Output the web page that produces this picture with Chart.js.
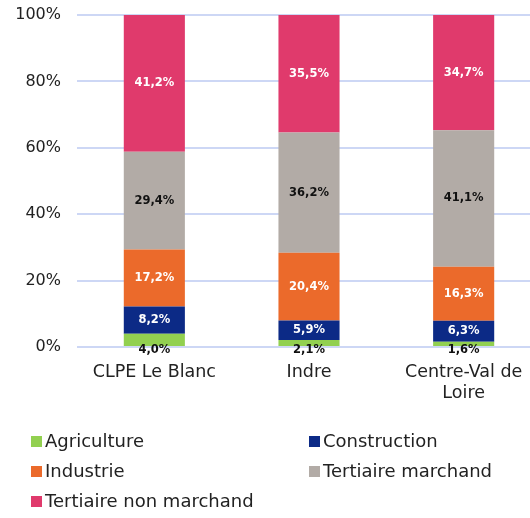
<!DOCTYPE html>
<html>
<head>
<meta charset="utf-8">
<script src="https://cdn.jsdelivr.net/npm/chart.js@4/dist/chart.umd.min.js"></script>
<style>
  html, body { margin: 0; padding: 0; overflow: hidden; background: #fff; }
  #wrap { width: 530px; height: 518px; overflow: hidden; }
</style>
</head>
<body>
<div id="wrap"><canvas id="c" width="545" height="518"></canvas></div>
<script>
// data
const categories = ["CLPE Le Blanc", "Indre", ["Centre-Val de", "Loire"]];
const agriculture = [4.0, 2.1, 1.6];
const construction = [8.2, 5.9, 6.3];
const industrie = [17.2, 20.4, 16.3];
const tertiaireMarchand = [29.4, 36.2, 41.1];
const tertiaireNonMarchand = [41.2, 35.5, 34.7];
const yTicks = [0, 20, 40, 60, 80, 100];

const FONT = "'DejaVu Sans', sans-serif";

const series = [
  { label: "Agriculture", data: agriculture, color: "#92d050", text: "#111" },
  { label: "Construction", data: construction, color: "#0c2a86", text: "#fff" },
  { label: "Industrie", data: industrie, color: "#eb6a2b", text: "#fff" },
  { label: "Tertiaire marchand", data: tertiaireMarchand, color: "#b2aba6", text: "#111" },
  { label: "Tertiaire non marchand", data: tertiaireNonMarchand, color: "#e03a6c", text: "#fff" }
];

const fmt = v => v.toFixed(1).replace(".", ",") + "%";

// value labels inside each segment (agriculture goes under the axis)
const valueLabels = {
  id: "valueLabels",
  afterDatasetsDraw(chart) {
    const ctx = chart.ctx;
    ctx.save();
    ctx.font = "bold 11.5px " + FONT;
    ctx.textAlign = "center";
    ctx.textBaseline = "middle";
    chart.data.datasets.forEach((ds, i) => {
      chart.getDatasetMeta(i).data.forEach((bar, j) => {
        let y = (bar.y + bar.base) / 2;
        if (i === 0) y = bar.base + 4;
        ctx.fillStyle = series[i].text;
        ctx.fillText(fmt(ds.data[j]), bar.x, y);
      });
    });
    ctx.restore();
  }
};

// two-column legend at the bottom
const gridLegend = {
  id: "gridLegend",
  afterDraw(chart) {
    const ctx = chart.ctx;
    ctx.save();
    ctx.font = "18px " + FONT;
    ctx.textBaseline = "middle";
    ctx.textAlign = "left";
    chart.data.datasets.forEach((ds, i) => {
      const x = i % 2 === 0 ? 31 : 309;
      const y = 442 + Math.floor(i / 2) * 30;
      ctx.fillStyle = ds.backgroundColor;
      ctx.fillRect(x, y - 6, 11, 11);
      ctx.fillStyle = "#222";
      ctx.fillText(ds.label, x + 14, y);
    });
    ctx.restore();
  }
};

new Chart(document.getElementById("c"), {
  type: "bar",
  data: {
    labels: categories,
    datasets: series.map(s => ({
      label: s.label,
      data: s.data,
      backgroundColor: s.color,
      borderWidth: 0,
      barPercentage: 0.395,
      categoryPercentage: 1
    }))
  },
  options: {
    responsive: false,
    animation: false,
    layout: { padding: { top: 15, right: 4, bottom: 0, left: 0 } },
    plugins: {
      legend: { display: false },
      tooltip: { enabled: false }
    },
    scales: {
      x: {
        stacked: true,
        grid: { display: false },
        border: { display: false },
        ticks: { color: "#222", font: { family: FONT, size: 17.5 }, padding: 7 },
        afterFit(scale) { scale.height = 171; }
      },
      y: {
        stacked: true,
        min: 0,
        max: 100,
        afterBuildTicks(scale) { scale.ticks = yTicks.map(v => ({ value: v })); },
        grid: { color: "#cdd7f5", lineWidth: 2, drawTicks: false },
        border: { display: false },
        ticks: {
          color: "#222",
          font: { family: FONT, size: 16 },
          padding: 16,
          callback: v => v + "%"
        },
        afterFit(scale) {
          scale.width = 77;
          scale.paddingTop = 0;
          scale.paddingBottom = 0;
        }
      }
    }
  },
  plugins: [valueLabels, gridLegend]
});
</script>
</body>
</html>
